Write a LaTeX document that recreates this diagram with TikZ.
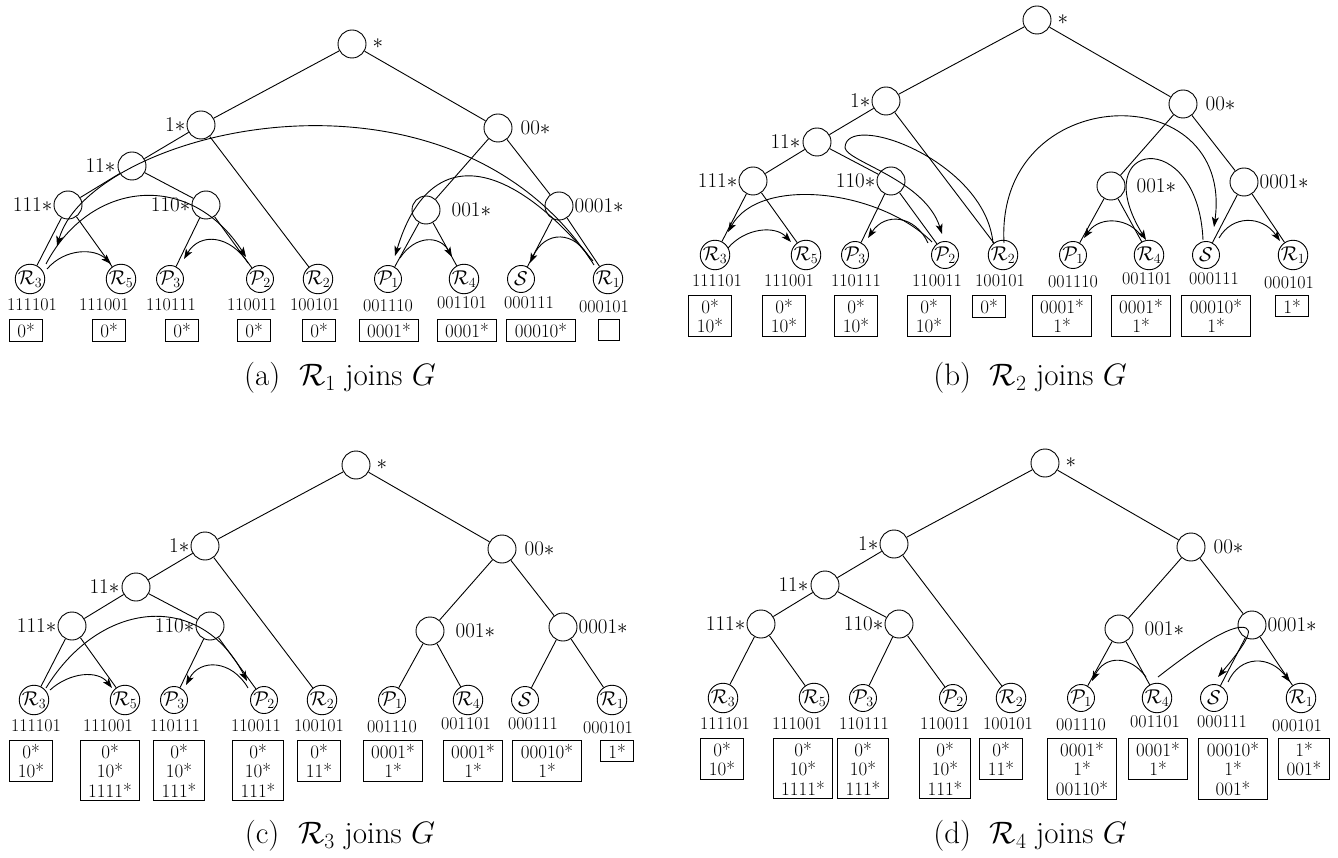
\RequirePackage{fix-cm}
\documentclass[tikz,border=0pt]{standalone}
\usepackage{amsmath}
\usetikzlibrary{arrows.meta}
\newcommand{\fs}{\fontsize{21}{23}\selectfont}
\newcommand{\fl}{\fontsize{20}{22}\selectfont}
\newcommand{\fb}{\fontsize{19}{19.5}\selectfont}
\tikzset{
 inn/.style={circle,draw,line width=0.9pt,minimum size=28pt,inner sep=0pt},
 leafn/.style={circle,draw,line width=0.9pt,minimum size=27pt,inner sep=0pt,font=\fl},
 lab/.style={inner sep=0pt,font=\fs},
 idl/.style={inner sep=0pt,font=\fontsize{18}{20}\selectfont},
 tbl/.style={draw,line width=0.9pt,anchor=north,align=center,inner xsep=8pt,inner ysep=3.5pt,font=\fb},
 tl/.style={line width=0.9pt},
 arr/.style={line width=0.9pt,-{Stealth[length=10pt,width=7pt,inset=2.5pt]}},
 capt/.style={inner sep=0pt,font=\fontsize{31}{34}\selectfont},
}
\newcommand{\drawtree}[1]{%
 \node[inn] (#1r) at (0,0) {};
 \node[inn] (#1n1) at (-151,81) {};
 \node[inn] (#1n00) at (146,84) {};
 \node[inn] (#1n11) at (-220,122) {};
 \node[inn] (#1n111) at (-284,161) {};
 \node[inn] (#1n110) at (-146,161) {};
 \node[inn] (#1n001) at (74,166) {};
 \node[inn] (#1n0001) at (207,162) {};
 \node[leafn] (#1R3) at (-322,235) {$\mathcal{R}_3$};
 \node[leafn] (#1R5) at (-231,235) {$\mathcal{R}_5$};
 \node[leafn] (#1P3) at (-182,235) {$\mathcal{P}_3$};
 \node[leafn] (#1P2) at (-92,235) {$\mathcal{P}_2$};
 \node[leafn] (#1R2) at (-34,235) {$\mathcal{R}_2$};
 \node[leafn] (#1P1) at (36,235) {$\mathcal{P}_1$};
 \node[leafn] (#1R4) at (112,235) {$\mathcal{R}_4$};
 \node[leafn] (#1S) at (169,235) {$\mathcal{S}$};
 \node[leafn] (#1R1) at (256,235) {$\mathcal{R}_1$};
 \node[lab,anchor=west] (#1lr) at ([xshift=6pt]#1r.east) {$\ast$};
 \node[lab,anchor=east] (#1l1) at ([xshift=-1pt]#1n1.west) {$1\ast$};
 \node[lab,anchor=east] (#1l11) at ([xshift=-2pt]#1n11.west) {$11\ast$};
 \node[lab,anchor=east] (#1l111) at ([xshift=-1pt]#1n111.west) {$111\ast$};
 \node[lab,anchor=east] (#1l110) at ([xshift=-1pt]#1n110.west) {$110\ast$};
 \node[lab,anchor=west] (#1l00) at ([xshift=8pt]#1n00.east) {$00\ast$};
 \node[lab,anchor=west] (#1l001) at ([xshift=11pt]#1n001.east) {$001\ast$};
 \node[lab,anchor=west] (#1l0001) at ([xshift=1pt]#1n0001.east) {$0001\ast$};
 \draw[tl] (#1r) -- (#1n1);
 \draw[tl] (#1r) -- (#1n00);
 \draw[tl] (#1n1) -- (#1n11);
 \draw[tl] (#1n1) -- (#1R2);
 \draw[tl] (#1n11) -- (#1n111);
 \draw[tl] (#1n11) -- (#1n110);
 \draw[tl] (#1n111) -- (#1R3);
 \draw[tl] (#1n111) -- (#1R5);
 \draw[tl] (#1n110) -- (#1P3);
 \draw[tl] (#1n110) -- (#1P2);
 \draw[tl] (#1n00) -- (#1n001);
 \draw[tl] (#1n00) -- (#1n0001);
 \draw[tl] (#1n001) -- (#1P1);
 \draw[tl] (#1n001) -- (#1R4);
 \draw[tl] (#1n0001) -- (#1S);
 \draw[tl] (#1n0001) -- (#1R1);
 \node[idl] (#1i1) at (-320,261) {111101};
 \node[idl] (#1i2) at (-248,261) {111001};
 \node[idl] (#1i3) at (-181,261) {110111};
 \node[idl] (#1i4) at (-100,261) {110011};
 \node[idl] (#1i5) at (-37,261) {100101};
 \node[idl] (#1i6) at (36,262) {001110};
 \node[idl] (#1i7) at (110,259) {001101};
 \node[idl] (#1i8) at (177,259) {000111};
 \node[idl] (#1i9) at (252,263) {000101};
}
\begin{document}
\begin{tikzpicture}[x=1pt,y=-1pt]
\fill[white] (0,0) rectangle (1338,858);
\useasboundingbox (0,0) rectangle (1338,858);

% ---------- (a)
\begin{scope}[shift={(352,44)}]
\drawtree{a}
\node[tbl] (aB1) at (-326,275) {0*};
\node[tbl] (aB2) at (-243,275) {0*};
\node[tbl] (aB3) at (-170,275) {0*};
\node[tbl] (aB4) at (-98,275) {0*};
\node[tbl] (aB5) at (-33,275) {0*};
\node[tbl] (aB6) at (37,275) {0001*};
\node[tbl] (aB7) at (115,275) {0001*};
\node[tbl] (aB8) at (189,275) {00010*};
\node[tbl,minimum width=21pt,minimum height=21pt] (aB9) at (257,275) {};
\end{scope}
\node[capt] (capa) at (340,378) {(a)\ \ $\mathcal{R}_1$\ joins\ $G$};

% ---------- (b)
\begin{scope}[shift={(1037,20)}]
\drawtree{b}
\node[tbl] (bB1) at (-327,275) {0*\\10*};
\node[tbl] (bB2) at (-253,275) {0*\\10*};
\node[tbl] (bB3) at (-181,275) {0*\\10*};
\node[tbl] (bB4) at (-108,275) {0*\\10*};
\node[tbl] (bB5) at (-48,275) {0*};
\node[tbl] (bB6) at (25,275) {0001*\\1*};
\node[tbl] (bB7) at (104,275) {0001*\\1*};
\node[tbl] (bB8) at (179,275) {00010*\\1*};
\node[tbl] (bB9) at (255,275) {1*};
\end{scope}
\node[capt] (capb) at (1030,378) {(b)\ \ $\mathcal{R}_2$\ joins\ $G$};

% ---------- (c)
\begin{scope}[shift={(356,465)}]
\drawtree{c}
\node[tbl] (cB1) at (-325,275) {0*\\10*};
\node[tbl] (cB2) at (-246,275) {0*\\10*\\1111*};
\node[tbl] (cB3) at (-177,275) {0*\\10*\\111*};
\node[tbl] (cB4) at (-98,275) {0*\\10*\\111*};
\node[tbl] (cB5) at (-37,275) {0*\\11*};
\node[tbl] (cB6) at (37,275) {0001*\\1*};
\node[tbl] (cB7) at (117,275) {0001*\\1*};
\node[tbl] (cB8) at (191,275) {00010*\\1*};
\node[tbl] (cB9) at (261,275) {1*};
\end{scope}
\node[capt] (capc) at (340,836) {(c)\ \ $\mathcal{R}_3$\ joins\ $G$};

% ---------- (d)
\begin{scope}[shift={(1045,463)}]
\drawtree{d}
\node[tbl] (dB1) at (-323,275) {0*\\10*};
\node[tbl] (dB2) at (-242,275) {0*\\10*\\1111*};
\node[tbl] (dB3) at (-182,275) {0*\\10*\\111*};
\node[tbl] (dB4) at (-100,275) {0*\\10*\\111*};
\node[tbl] (dB5) at (-44,275) {0*\\11*};
\node[tbl] (dB6) at (37,275) {0001*\\1*\\00110*};
\node[tbl] (dB7) at (113,275) {0001*\\1*};
\node[tbl] (dB8) at (188,275) {00010*\\1*\\001*};
\node[tbl] (dB9) at (259,275) {1*\\001*};
\end{scope}
\node[capt] (capd) at (1030,836) {(d)\ \ $\mathcal{R}_4$\ joins\ $G$};

% ---------- arrows (a)
\draw[arr] ([shift={(-14,-14)}]aR1.center) .. controls (450,40) and (90,130) .. ([shift={(27,-33)}]aR3.center);
\draw[arr] ([shift={(-15,-18)}]aR1.center) .. controls (510,160) and (430,140) .. ([shift={(7,-23)}]aP1.center);
\draw[arr] ([shift={(-18,-20)}]aR1.center) .. controls (575,230) and (545,230) .. ([shift={(9,-16)}]aS.center);
\draw[arr] ([shift={(12,-21)}]aP1.center) .. controls (415,235) and (440,235) .. ([shift={(-12,-22)}]aR4.center);
\draw[arr] ([shift={(17,-10)}]aR3.center) .. controls (65,248) and (95,248) .. ([shift={(-10,-15)}]aR5.center);
\draw[arr] ([shift={(16,-15)}]aR3.center) .. controls (90,180) and (190,170) .. ([shift={(-14,-22)}]aP2.center);
\draw[arr] ([shift={(-12,-16)}]aP2.center) .. controls (230,235) and (200,232) .. ([shift={(14,-20)}]aP3.center);

% ---------- arrows (b)
\draw[arr] ([shift={(-10,-12)}]bR2.center) .. controls (985,160) and (845,110) .. (845,148) .. controls (848,162) and (925,180) .. ([shift={(-3,-21)}]bP2.center);
\draw[arr] ([shift={(-13,-13)}]bP2.center) .. controls (880,190) and (760,175) .. ([shift={(13,-23)}]bR3.center);
\draw[arr] ([shift={(-17,-12)}]bP2.center) .. controls (915,215) and (885,212) .. ([shift={(13,-17)}]bP3.center);
\draw[arr] ([shift={(13,-7)}]bR3.center) .. controls (745,228) and (775,225) .. ([shift={(-15,-13)}]bR5.center);
\draw[arr] ([shift={(1,-12)}]bR2.center) .. controls (995,80) and (1235,75) .. ([shift={(8,-28)}]bS.center);
\draw[arr] ([shift={(-3,-15)}]bS.center) .. controls (1198,125) and (1085,140) .. ([shift={(-3,-15)}]bR4.center);
\draw[arr] ([shift={(-7,-18)}]bR4.center) .. controls (1130,218) and (1100,215) .. ([shift={(11,-17)}]bP1.center);
\draw[arr] ([shift={(13,-17)}]bS.center) .. controls (1232,215) and (1262,215) .. ([shift={(-13,-14)}]bR1.center);

% ---------- arrows (c)
\draw[arr] ([shift={(12,-12)}]cR3.center) .. controls (100,600) and (200,590) .. ([shift={(-17,-19)}]cP2.center);
\draw[arr] ([shift={(16,-10)}]cR3.center) .. controls (70,672) and (98,670) .. ([shift={(-13,-12)}]cR5.center);
\draw[arr] ([shift={(-16,-12)}]cP2.center) .. controls (232,660) and (200,658) .. ([shift={(12,-15)}]cP3.center);

% ---------- arrows (d)
\draw[arr] ([shift={(1,-21)}]dR4.center) .. controls (1190,652) and (1232,622) .. (1246,628) .. controls (1256,632) and (1232,660) .. ([shift={(4,-21)}]dS.center);
\draw[arr] ([shift={(-11,-21)}]dR4.center) .. controls (1130,655) and (1105,655) .. ([shift={(11,-17)}]dP1.center);
\draw[arr] ([shift={(14,-16)}]dS.center) .. controls (1240,655) and (1270,655) .. ([shift={(-11,-16)}]dR1.center);
\end{tikzpicture}
\end{document}
